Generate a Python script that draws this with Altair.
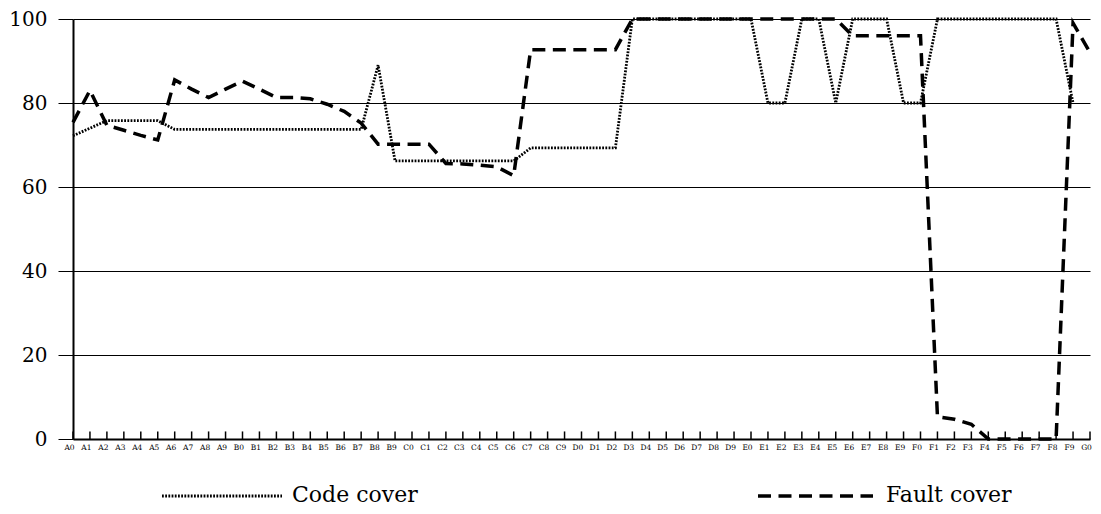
import altair as alt
import pandas as pd

categories = [
    "A0", "A1", "A2", "A3", "A4", "A5", "A6", "A7", "A8", "A9",
    "B0", "B1", "B2", "B3", "B4", "B5", "B6", "B7", "B8", "B9",
    "C0", "C1", "C2", "C3", "C4", "C5", "C6", "C7", "C8", "C9",
    "D0", "D1", "D2", "D3", "D4", "D5", "D6", "D7", "D8", "D9",
    "E0", "E1", "E2", "E3", "E4", "E5", "E6", "E7", "E8", "E9",
    "F0", "F1", "F2", "F3", "F4", "F5", "F6", "F7", "F8", "F9",
    "G0",
]

code_cover = [
    72.2, 74.0, 75.8, 75.8, 75.8, 75.8, 73.7, 73.7, 73.7, 73.7,
    73.7, 73.7, 73.7, 73.7, 73.7, 73.7, 73.7, 73.7, 89.0, 66.2,
    66.2, 66.2, 66.2, 66.2, 66.2, 66.2, 66.2, 69.3, 69.3, 69.3,
    69.3, 69.3, 69.3, 100, 100, 100, 100, 100, 100, 100,
    100, 80, 80, 100, 100, 80, 100, 100, 100, 80,
    80, 100, 100, 100, 100, 100, 100, 100, 100, 80,
    None,
]

fault_cover = [
    75.4, 83.0, 74.7, 73.5, 72.3, 71.2, 85.5, 83.3, 81.3, 83.3,
    85.2, 83.3, 81.3, 81.3, 81.0, 79.7, 78.0, 75.2, 70.2, 70.2,
    70.2, 70.2, 65.6, 65.5, 65.2, 64.8, 62.7, 92.7, 92.7, 92.7,
    92.7, 92.7, 92.7, 100, 100, 100, 100, 100, 100, 100,
    100, 100, 100, 100, 100, 100, 96, 96, 96, 96,
    96, 5.3, 4.7, 3.5, 0, 0, 0, 0, 0, 99,
    92,
]

y_ticks = [0, 20, 40, 60, 80, 100]
series_names = ["Code cover", "Fault cover"]

df = pd.DataFrame({"cat": categories, "code": code_cover, "fault": fault_cover})
one = pd.DataFrame({"k": [0]})

FONT = "DejaVu Serif"
DOT = [1.8, 1.4]
DASH = [13, 7.5]

x_enc = alt.X(
    "cat:O",
    sort=categories,
    scale=alt.Scale(type="point", padding=0),
    axis=alt.Axis(
        title=None, labelAngle=0, labelFont=FONT, labelFontSize=7.5,
        labelColor="black", labelPadding=4, labelOffset=-4, tickSize=0,
        domainColor="black", domainWidth=2, grid=False,
    ),
)
y_scale = alt.Scale(domain=[0, 100], nice=False)
y_axis = alt.Axis(
    title=None, values=y_ticks, labelFont=FONT, labelFontSize=20,
    labelColor="black", labelPadding=11, tickSize=15, tickColor="black",
    tickWidth=1, domainColor="black", domainWidth=2, grid=True,
    gridColor="black", gridOpacity=1, gridWidth=1,
)

code_line = alt.Chart(df).mark_line(
    color="black", strokeWidth=2.8, strokeDash=DOT
).encode(
    x=x_enc,
    y=alt.Y("code:Q", scale=y_scale, axis=y_axis),
)

fault_line = alt.Chart(df).mark_line(
    color="black", strokeWidth=3.5, strokeDash=DASH
).encode(
    x=alt.X("cat:O", sort=categories),
    y=alt.Y("fault:Q"),
)

ticks = alt.Chart(df).mark_rule(color="black", strokeWidth=1.5).encode(
    x=alt.X("cat:O", sort=categories),
    y=alt.datum(0),
    y2=alt.datum(1.8),
)

leg_code_line = alt.Chart(one).mark_rule(
    color="black", strokeWidth=2.8, strokeDash=DOT
).encode(x=alt.value(89), x2=alt.value(209), y=alt.value(477))
leg_code_text = alt.Chart(one).mark_text(
    text=series_names[0], align="left", baseline="alphabetic",
    font=FONT, fontSize=22, color="black",
).encode(x=alt.value(219), y=alt.value(483))

leg_fault_line = alt.Chart(one).mark_rule(
    color="black", strokeWidth=3.5, strokeDash=DASH
).encode(x=alt.value(685), x2=alt.value(800), y=alt.value(477))
leg_fault_text = alt.Chart(one).mark_text(
    text=series_names[1], align="left", baseline="alphabetic",
    font=FONT, fontSize=22, color="black",
).encode(x=alt.value(813), y=alt.value(483))

chart = alt.layer(
    code_line, fault_line, ticks,
    leg_code_line, leg_code_text, leg_fault_line, leg_fault_text,
).properties(
    width=1017,
    height=420,
    autosize=alt.AutoSizeParams(type="none"),
    padding={"left": 65, "top": 11, "right": 3, "bottom": 67},
    background="white",
).configure_view(stroke=None)

chart.save("out.html", embed_options={"renderer": "svg", "actions": False})
